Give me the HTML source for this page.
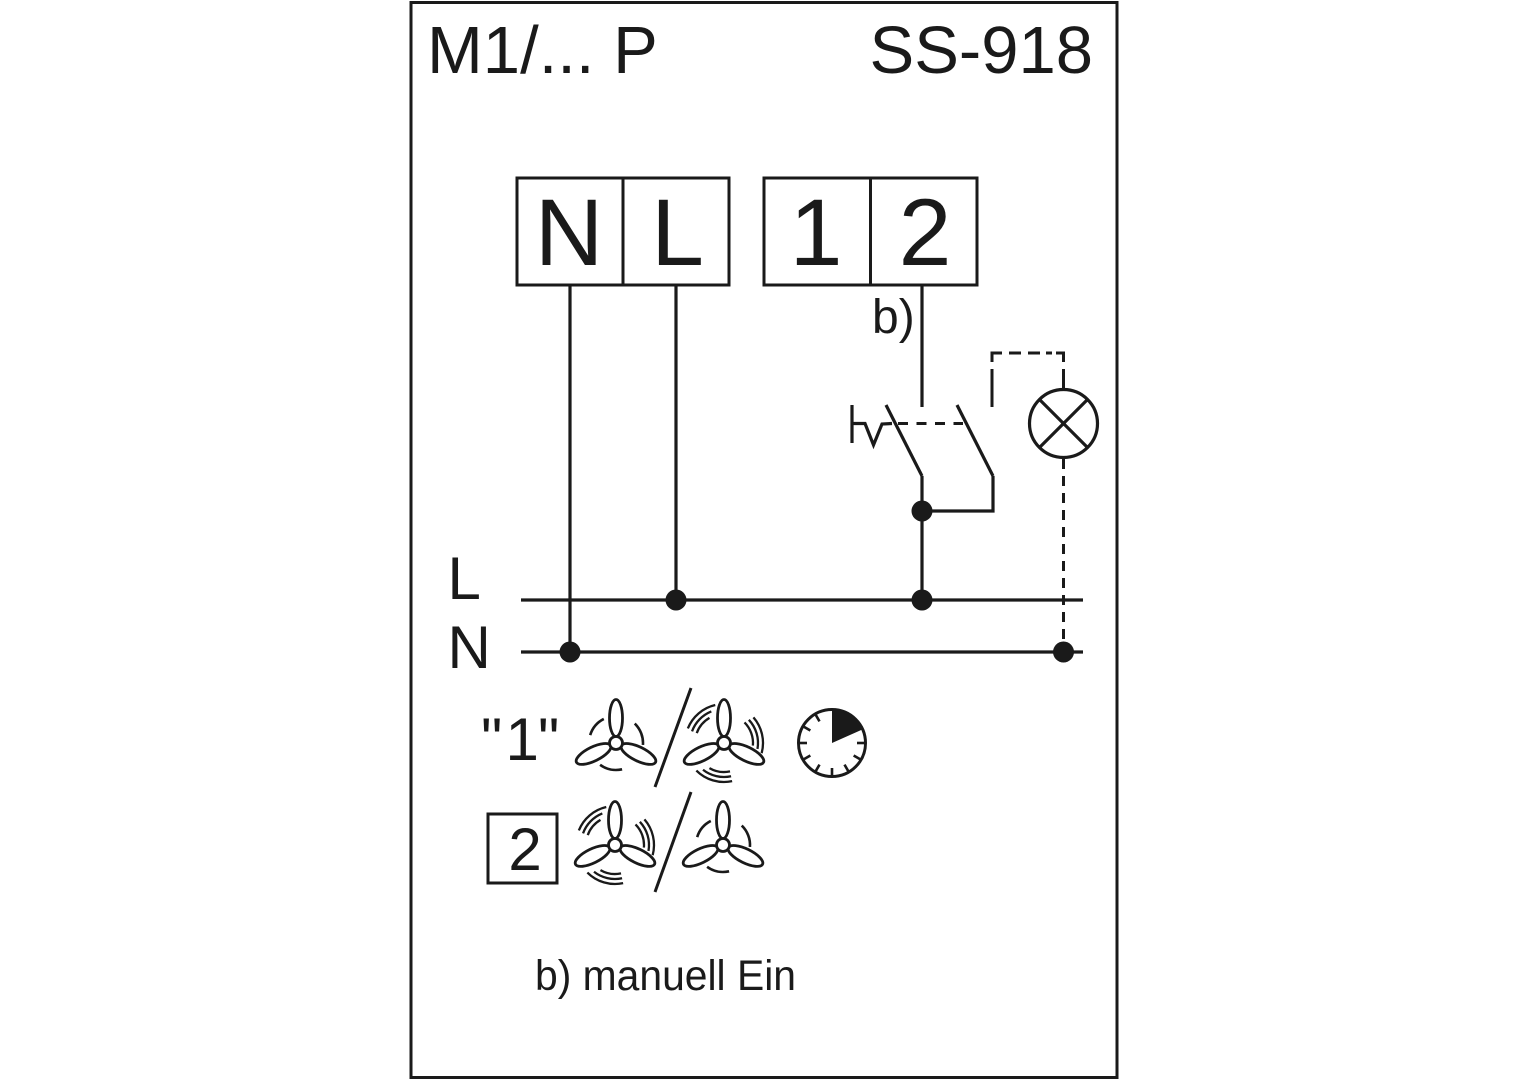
<!DOCTYPE html>
<html>
<head>
<meta charset="utf-8">
<style>
  html, body { margin: 0; padding: 0; background: #fff; }
  svg { display: block; }
  text { font-family: "Liberation Sans", Arial, sans-serif; fill: #1a1a1a; }
</style>
</head>
<body>
<svg width="1528" height="1080" viewBox="0 0 1528 1080" xmlns="http://www.w3.org/2000/svg">
  <rect x="0" y="0" width="1528" height="1080" fill="#fff"/>
  <!-- outer frame -->
  <rect x="411" y="2.5" width="706" height="1075" fill="none" stroke="#1a1a1a" stroke-width="3"/>

  <!-- header -->
  <text x="427" y="73" font-size="67">M1/... P</text>
  <text x="1093" y="73" font-size="67" text-anchor="end">SS-918</text>

  <!-- terminal boxes -->
  <g fill="none" stroke="#1a1a1a" stroke-width="3">
    <rect x="517" y="178" width="212" height="107"/>
    <line x1="623" y1="178" x2="623" y2="285"/>
    <rect x="764" y="178" width="213" height="107"/>
    <line x1="870.5" y1="178" x2="870.5" y2="285"/>
  </g>
  <text x="569" y="265" font-size="95" text-anchor="middle">N</text>
  <text x="677.5" y="265" font-size="95" text-anchor="middle">L</text>
  <text x="816" y="265" font-size="95" text-anchor="middle">1</text>
  <text x="925" y="265" font-size="95" text-anchor="middle">2</text>

  <!-- b) label -->
  <text x="872" y="333" font-size="48">b)</text>

  <!-- wiring -->
  <g fill="none" stroke="#1a1a1a" stroke-width="3.2" stroke-linecap="butt">
    <line x1="570" y1="285" x2="570" y2="652"/>
    <line x1="676" y1="285" x2="676" y2="600"/>
    <line x1="922" y1="285" x2="922" y2="407"/>
    <line x1="521" y1="600" x2="1083" y2="600"/>
    <line x1="521" y1="652" x2="1083" y2="652"/>
    <line x1="886" y1="405" x2="922" y2="476"/>
    <polyline points="922,476 922,600"/>
    <line x1="957" y1="405" x2="993" y2="476"/>
    <polyline points="993,476 993,511 922,511"/>
    <line x1="852" y1="405" x2="852" y2="443"/>
    <polyline points="852,423.5 865,423.5 873.5,445 882,424 892,423.5"/>
    <circle cx="1063.5" cy="423.5" r="34"/>
    <line x1="1039.5" y1="399.5" x2="1087.5" y2="447.5"/>
    <line x1="1087.5" y1="399.5" x2="1039.5" y2="447.5"/>
  </g>
  <!-- dashed lines -->
  <g fill="none" stroke="#1a1a1a" stroke-width="3">
    <line x1="898" y1="423.5" x2="963" y2="423.5" stroke-dasharray="10 8.5"/>
    <line x1="992" y1="369" x2="992" y2="407"/>
    <polyline points="992,362 992,353 1002,353"/>
    <line x1="1009" y1="353" x2="1021" y2="353"/>
    <line x1="1028" y1="353" x2="1040" y2="353"/>
    <line x1="1046" y1="353" x2="1052" y2="353"/>
    <polyline points="1056,353 1063.5,353 1063.5,362"/>
    <line x1="1063.5" y1="369" x2="1063.5" y2="389"/>
    <line x1="1063.5" y1="459" x2="1063.5" y2="652" stroke-dasharray="10 7"/>
  </g>
  <!-- junction dots -->
  <g fill="#1a1a1a">
    <circle cx="676" cy="600" r="10.5"/>
    <circle cx="922" cy="600" r="10.5"/>
    <circle cx="922" cy="511" r="10.5"/>
    <circle cx="570" cy="652" r="10.5"/>
    <circle cx="1063.5" cy="652" r="10.5"/>
  </g>

  <!-- L / N labels -->
  <text x="447.5" y="599" font-size="60">L</text>
  <text x="447.5" y="668" font-size="60">N</text>

  <!-- "1" -->
  <text x="481" y="760" font-size="60">"</text>
  <text x="505.5" y="760" font-size="60">1</text>
  <text x="538" y="760" font-size="60">"</text>

  <!-- box 2 -->
  <rect x="488" y="814" width="69" height="69" fill="none" stroke="#1a1a1a" stroke-width="3"/>
  <text x="525" y="870" font-size="60" text-anchor="middle">2</text>

  <!-- fan definitions -->
  <defs>
    <g id="blades">
      <ellipse cx="0" cy="-25" rx="6.5" ry="18.5" fill="#fff" stroke="#1a1a1a" stroke-width="2.8"/>
      <ellipse cx="0" cy="-25" rx="7" ry="19" fill="#fff" stroke="#1a1a1a" stroke-width="2.8" transform="rotate(116)"/>
      <ellipse cx="0" cy="-25" rx="7" ry="19" fill="#fff" stroke="#1a1a1a" stroke-width="2.8" transform="rotate(-116)"/>
      <circle cx="0" cy="0" r="6.5" fill="#fff" stroke="#1a1a1a" stroke-width="2.8"/>
    </g>
    <g id="plainArcs" fill="none" stroke="#1a1a1a" stroke-width="2.6">
      <circle r="27" transform="rotate(197)" stroke-dasharray="21.7 1000"/>
      <circle r="27" transform="rotate(-46)" stroke-dasharray="23.6 1000"/>
      <circle r="27" transform="rotate(77)" stroke-dasharray="23.1 1000"/>
    </g>
    <g id="activeArcs" fill="none" stroke="#1a1a1a" stroke-width="2.3">
      <circle r="29" transform="rotate(200)" stroke-dasharray="20.2 1000"/>
      <circle r="34" transform="rotate(200)" stroke-dasharray="28.5 1000"/>
      <circle r="39" transform="rotate(202)" stroke-dasharray="37.4 1000"/>
      <circle r="29" transform="rotate(-45)" stroke-dasharray="25.3 1000"/>
      <circle r="34" transform="rotate(-43)" stroke-dasharray="31.4 1000"/>
      <circle r="39" transform="rotate(-41)" stroke-dasharray="38.1 1000"/>
      <circle r="29" transform="rotate(78)" stroke-dasharray="21.3 1000"/>
      <circle r="34" transform="rotate(78)" stroke-dasharray="29.7 1000"/>
      <circle r="39" transform="rotate(78)" stroke-dasharray="38.8 1000"/>
    </g>
  </defs>

  <!-- row 1 fans -->
  <g transform="translate(616,743)">
    <use href="#plainArcs"/>
    <use href="#blades"/>
  </g>
  <line x1="655" y1="787" x2="691" y2="688" stroke="#1a1a1a" stroke-width="3"/>
  <g transform="translate(724,743)">
    <use href="#activeArcs"/>
    <use href="#blades"/>
  </g>

  <!-- clock -->
  <g transform="translate(832,743)">
    <path d="M0,0 V-33.5 A33.5,33.5 0 0 1 30.6,-13.6 Z" fill="#1a1a1a"/>
    <circle r="33.5" fill="none" stroke="#1a1a1a" stroke-width="3"/>
    <g stroke="#1a1a1a" stroke-width="2.6">
      <line x1="0" y1="-33" x2="0" y2="-25" transform="rotate(90)"/>
      <line x1="0" y1="-33" x2="0" y2="-25" transform="rotate(120)"/>
      <line x1="0" y1="-33" x2="0" y2="-25" transform="rotate(150)"/>
      <line x1="0" y1="-33" x2="0" y2="-25" transform="rotate(180)"/>
      <line x1="0" y1="-33" x2="0" y2="-25" transform="rotate(210)"/>
      <line x1="0" y1="-33" x2="0" y2="-25" transform="rotate(240)"/>
      <line x1="0" y1="-33" x2="0" y2="-25" transform="rotate(270)"/>
      <line x1="0" y1="-33" x2="0" y2="-25" transform="rotate(300)"/>
      <line x1="0" y1="-33" x2="0" y2="-25" transform="rotate(330)"/>
    </g>
  </g>

  <!-- row 2 fans -->
  <g transform="translate(615,845)">
    <use href="#activeArcs"/>
    <use href="#blades"/>
  </g>
  <line x1="655" y1="892" x2="691" y2="792" stroke="#1a1a1a" stroke-width="3"/>
  <g transform="translate(723,845)">
    <use href="#plainArcs"/>
    <use href="#blades"/>
  </g>

  <!-- footnote -->
  <text x="535" y="990" font-size="43" textLength="261" lengthAdjust="spacingAndGlyphs">b) manuell Ein</text>
</svg>
</body>
</html>
